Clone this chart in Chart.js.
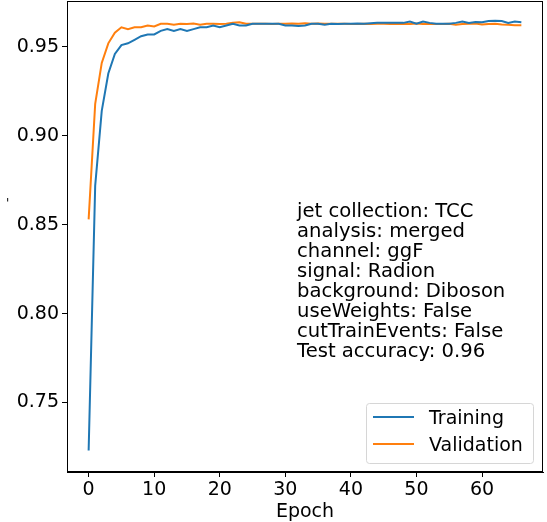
<!DOCTYPE html>
<html>
<head>
<meta charset="utf-8">
<script src="https://cdn.jsdelivr.net/npm/chart.js@4.4.0/dist/chart.umd.min.js"></script>
<style>
  html, body { margin: 0; padding: 0; background: #fff; }
</style>
</head>
<body>
<canvas id="chart" width="547" height="522"></canvas>
<script>
// epochs 0..66
const epochs = [0, 1, 2, 3, 4, 5, 6, 7, 8, 9, 10, 11, 12, 13, 14, 15, 16, 17, 18, 19,
  20, 21, 22, 23, 24, 25, 26, 27, 28, 29, 30, 31, 32, 33, 34, 35, 36, 37, 38, 39,
  40, 41, 42, 43, 44, 45, 46, 47, 48, 49, 50, 51, 52, 53, 54, 55, 56, 57, 58, 59,
  60, 61, 62, 63, 64, 65, 66];

const training = [0.723, 0.872, 0.914, 0.935, 0.946, 0.951, 0.952, 0.954, 0.956, 0.957,
  0.957, 0.959, 0.960, 0.959, 0.960, 0.959, 0.960, 0.961, 0.961, 0.962,
  0.961, 0.962, 0.963, 0.962, 0.962, 0.963, 0.963, 0.963, 0.963, 0.963,
  0.962, 0.962, 0.9618, 0.962, 0.963, 0.963, 0.9625, 0.963, 0.9628, 0.963,
  0.963, 0.9632, 0.963, 0.9633, 0.9635, 0.9635, 0.9635, 0.9635, 0.9635, 0.9642,
  0.963, 0.9643, 0.9635, 0.963, 0.963, 0.963, 0.9635, 0.9642, 0.9635, 0.964,
  0.9638, 0.9645, 0.9647, 0.9645, 0.9635, 0.9642, 0.9638];

const validation = [0.853, 0.918, 0.941, 0.952, 0.958, 0.961, 0.960, 0.961, 0.961, 0.962,
  0.9615, 0.963, 0.963, 0.9625, 0.963, 0.9628, 0.9632, 0.9625, 0.963, 0.963,
  0.9628, 0.963, 0.9636, 0.9638, 0.963, 0.963, 0.963, 0.963, 0.9628, 0.963,
  0.963, 0.9632, 0.963, 0.9633, 0.963, 0.9632, 0.963, 0.963, 0.963, 0.963,
  0.9628, 0.9628, 0.963, 0.9628, 0.963, 0.963, 0.9628, 0.9628, 0.9628, 0.9628,
  0.9632, 0.9628, 0.9628, 0.9628, 0.9628, 0.963, 0.9625, 0.9628, 0.963, 0.9632,
  0.9626, 0.9628, 0.963, 0.9626, 0.9625, 0.9622, 0.9622];

const xTicks = [0, 10, 20, 30, 40, 50, 60];
const yTicks = [0.75, 0.80, 0.85, 0.90, 0.95];
const seriesNames = ['Training', 'Validation'];
const infoLines = [
  'jet collection: TCC',
  'analysis: merged',
  'channel: ggF',
  'signal: Radion',
  'background: Diboson',
  'useWeights: False',
  'cutTrainEvents: False',
  'Test accuracy: 0.96'
];

const FONT = 'DejaVu Sans';
const blue = '#1f77b4';
const orange = '#ff7f0e';

// frame, text box, legend and axis label drawn on top
const extras = {
  id: 'extras',
  afterDraw(chart) {
    const ctx = chart.ctx;
    const a = chart.chartArea;
    ctx.save();
    // the box around the plot
    ctx.strokeStyle = '#000';
    ctx.lineWidth = 1;
    ctx.strokeRect(a.left + 0.5, a.top + 0.5, a.right - a.left - 1, a.bottom - a.top - 1);

    ctx.fillStyle = '#000';
    ctx.font = '19px "' + FONT + '"';
    ctx.textBaseline = 'alphabetic';

    // x axis label
    ctx.textAlign = 'center';
    ctx.fillText('Epoch', (a.left + a.right) / 2, 517);

    // info text
    ctx.textAlign = 'left';
    ctx.font = '19.6px "' + FONT + '"';
    infoLines.forEach((t, i) => ctx.fillText(t, 297, 217 + i * 20));

    // legend
    ctx.font = '19px "' + FONT + '"';
    const lx = 366, ly = 403, lw = 167, lh = 60;
    ctx.beginPath();
    ctx.roundRect(lx + 0.5, ly + 0.5, lw, lh, 3);
    ctx.fillStyle = 'rgba(255,255,255,0.8)';
    ctx.fill();
    ctx.strokeStyle = '#d6d6d6';
    ctx.stroke();
    [blue, orange].forEach((c, i) => {
      const y = 417 + i * 27;
      ctx.strokeStyle = c;
      ctx.lineWidth = 2;
      ctx.beginPath();
      ctx.moveTo(373, y);
      ctx.lineTo(414, y);
      ctx.stroke();
      ctx.fillStyle = '#000';
      ctx.fillText(seriesNames[i], 429, y + 7);
    });

    // stray mark left of the y axis
    ctx.font = '12px "' + FONT + '"';
    ctx.fillText("'", 6, 207);
    ctx.restore();
  }
};

new Chart(document.getElementById('chart'), {
  type: 'line',
  data: {
    datasets: [
      {
        label: seriesNames[0],
        data: epochs.map((e, i) => ({ x: e, y: training[i] })),
        borderColor: blue,
        borderWidth: 2,
        pointRadius: 0,
        tension: 0,
        fill: false
      },
      {
        label: seriesNames[1],
        data: epochs.map((e, i) => ({ x: e, y: validation[i] })),
        borderColor: orange,
        borderWidth: 2,
        pointRadius: 0,
        tension: 0,
        fill: false
      }
    ]
  },
  options: {
    responsive: false,
    animation: false,
    devicePixelRatio: 1,
    layout: { padding: { top: 1, right: 4, left: 0, bottom: 0 } },
    plugins: {
      legend: { display: false },
      tooltip: { enabled: false }
    },
    scales: {
      x: {
        type: 'linear',
        min: -3.3,
        max: 69.3,
        afterBuildTicks: s => { s.ticks = xTicks.map(v => ({ value: v })); },
        afterFit: s => { s.height = 50; s.paddingLeft = 0; s.paddingRight = 0; },
        ticks: {
          color: '#000',
          font: { family: FONT, size: 19 },
          padding: 2,
          maxRotation: 0,
          callback: v => String(v)
        },
        grid: { drawOnChartArea: false, drawTicks: true, tickLength: 5, tickColor: '#000' },
        border: { display: true, color: '#000' }
      },
      y: {
        min: 0.7109,
        max: 0.9758,
        afterBuildTicks: s => { s.ticks = yTicks.map(v => ({ value: v })); },
        afterFit: s => { s.width = 67; s.paddingTop = 0; s.paddingBottom = 0; },
        ticks: {
          color: '#000',
          font: { family: FONT, size: 19 },
          padding: 3,
          callback: v => v.toFixed(2)
        },
        grid: { drawOnChartArea: false, drawTicks: true, tickLength: 5, tickColor: '#000' },
        border: { display: true, color: '#000' }
      }
    }
  },
  plugins: [extras]
});
</script>
</body>
</html>
